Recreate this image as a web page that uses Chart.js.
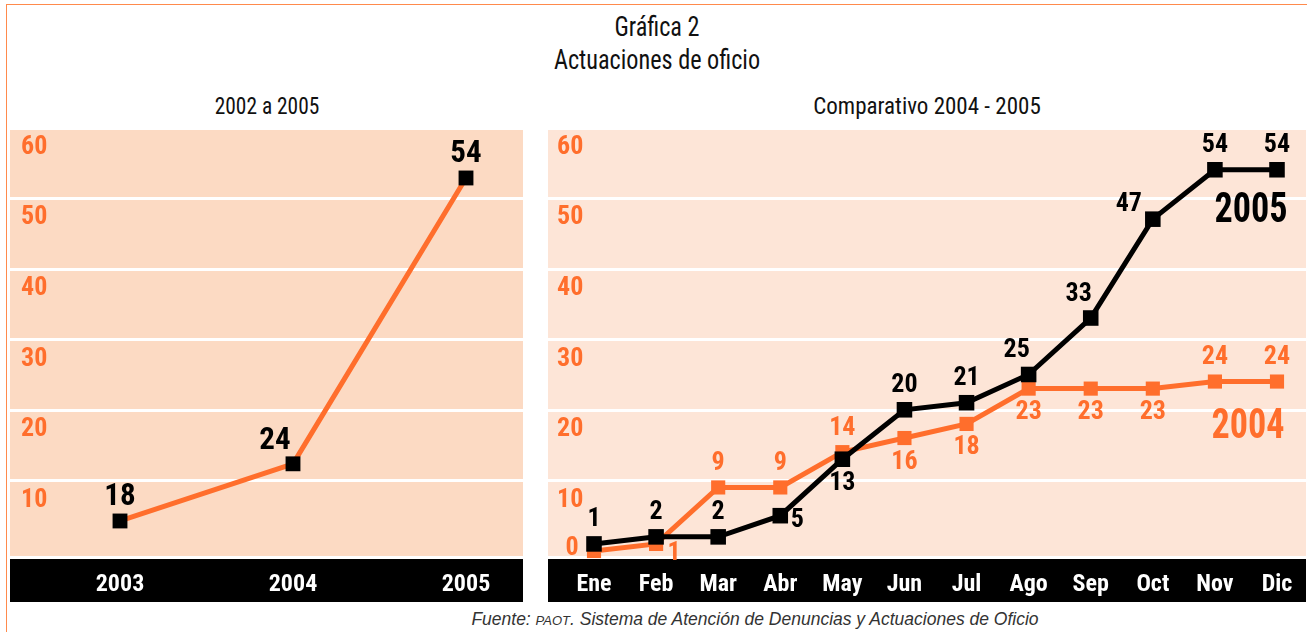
<!DOCTYPE html>
<html>
<head>
<meta charset="utf-8">
<script src="https://cdn.jsdelivr.net/npm/chart.js@4"></script>
<style>
  body { margin: 0; width: 1307px; height: 632px; overflow: hidden; position: relative; background: #fff;
         font-family: "Roboto Condensed", "DejaVu Sans Condensed", sans-serif; }
  #frame { position: absolute; left: 6px; top: 4px; width: 1302px; height: 700px; border: 1.5px solid #ff8a4c; box-sizing: border-box; }
  .txt { position: absolute; text-align: center; color: #111; white-space: nowrap; }
  #title { left: 457px; width: 400px; top: 10px; font-size: 28px; line-height: 33px; transform: scaleX(0.865); }
  #sub1 { left: 117px; width: 300px; top: 93px; font-size: 23px; transform: scaleX(0.93); }
  #sub2 { left: 777px; width: 300px; top: 93px; font-size: 23px; }
  #src { left: 355px; width: 800px; top: 609px; font-family: "Liberation Sans", sans-serif; font-style: italic; font-size: 17.5px; color: #333; }
  #src small { font-size: 13px; }
  canvas { position: absolute; }
</style>
</head>
<body>
<div id="frame"></div>
<div class="txt" id="title">Gráfica 2<br>Actuaciones de oficio</div>
<div class="txt" id="sub1">2002 a 2005</div>
<div class="txt" id="sub2">Comparativo 2004 - 2005</div>
<canvas id="left" width="513" height="484" style="left:10px;top:118px"></canvas>
<canvas id="right" width="758" height="484" style="left:548px;top:118px"></canvas>
<div class="txt" id="src">Fuente: <small>PAOT</small>. Sistema de Atención de Denuncias y Actuaciones de Oficio</div>

<script>
const years = ['2003', '2004', '2005'];
const yearTotals = [18, 24, 54];

const months = ['Ene', 'Feb', 'Mar', 'Abr', 'May', 'Jun', 'Jul', 'Ago', 'Sep', 'Oct', 'Nov', 'Dic'];
const values2005 = [1, 2, 2, 5, 13, 20, 21, 25, 33, 47, 54, 54];
const values2004 = [0, 1, 9, 9, 14, 16, 18, 23, 23, 23, 24, 24];

const yTickLabels = ['10', '20', '30', '40', '50', '60'];

// where each value label sits around its point
const posYears = ['top', 'topLeft', 'top'];
const pos2005 = ['top', 'top', 'top', 'right', 'bottom', 'top', 'top', 'topLeft', 'topLeft', 'farLeft', 'top', 'top'];
const pos2004 = ['left', 'bottomRight', 'top', 'top', 'top', 'bottom', 'bottom', 'bottom', 'bottom', 'bottom', 'top', 'top'];

const ORANGE = '#ff6e2c';
const FONT = '"Roboto Condensed", "DejaVu Sans Condensed", sans-serif';

const offsSmall = { top: [0, -24], topLeft: [-12, -24], left: [-22, -2], farLeft: [-24, -15], right: [17, 5], bottom: [0, 24], bottomRight: [18, 10] };
const offsBig = { top: [0, -24], topLeft: [-18, -23] };

// note: the printed left panel does not place its points on the scale of its own
// tick labels, so that panel gets its own value range with the same gridline rows
const leftBase = 14.85, leftStep = 7.41;
const rightBase = 0, rightStep = 10;

const panelBackground = {
  id: 'panelBackground',
  beforeDraw(chart, args, opts) {
    const { ctx, chartArea: a, width, height } = chart;
    const y = chart.scales.y;
    ctx.save();
    ctx.fillStyle = opts.color;
    ctx.fillRect(0, opts.top, width, a.bottom - opts.top);
    ctx.strokeStyle = '#fff';
    ctx.lineWidth = 3;
    y.ticks.forEach(t => {
      const py = Math.round(y.getPixelForValue(t.value)) + 0.5;
      if (py > opts.top + 2) {
        ctx.beginPath(); ctx.moveTo(0, py); ctx.lineTo(width, py); ctx.stroke();
      }
    });
    ctx.fillStyle = '#000';
    ctx.fillRect(0, a.bottom + 3, width, height - a.bottom - 3);
    ctx.restore();
  }
};

const pointLabels = {
  id: 'pointLabels',
  afterDatasetsDraw(chart) {
    const ctx = chart.ctx;
    chart.data.datasets.forEach((ds, i) => {
      const meta = chart.getDatasetMeta(i);
      ctx.save();
      ctx.textAlign = 'center';
      ctx.textBaseline = 'middle';
      ctx.fillStyle = ds.labelColor;
      ctx.font = ds.labelFont;
      meta.data.forEach((pt, j) => {
        const o = ds.labelOffsets[ds.labelPos[j]];
        ctx.fillText(String(ds.data[j]), pt.x + o[0], pt.y + o[1]);
      });
      if (ds.tag) {
        // series name written next to the end of its line, a bit narrower
        const last = meta.data[meta.data.length - 1];
        ctx.font = ds.tagFont;
        ctx.translate(last.x + ds.tagOffset[0], last.y + ds.tagOffset[1]);
        ctx.scale(0.86, 1);
        ctx.fillText(ds.tag, 0, 0);
      }
      ctx.restore();
    });
  }
};

function makePanel(id, labels, datasets, base, step, yWidth, pad, bg) {
  const tickValues = yTickLabels.map((l, i) => base + step * (i + 1));
  return new Chart(document.getElementById(id), {
    type: 'line',
    data: { labels: labels, datasets: datasets },
    options: {
      responsive: false,
      animation: false,
      devicePixelRatio: 1,
      layout: { padding: pad },
      plugins: {
        legend: { display: false },
        tooltip: { enabled: false },
        panelBackground: { color: bg, top: 12 }
      },
      scales: {
        x: {
          grid: { display: false },
          border: { display: false },
          ticks: { color: '#fff', font: { family: FONT, size: 24, weight: 'bold' }, padding: 7, maxRotation: 0 },
          afterFit(s) { s.height = 46; }
        },
        y: {
          min: base - step * 0.071,
          max: base + step * 5.963,
          afterBuildTicks(s) { s.ticks = tickValues.map(v => ({ value: v })); },
          grid: { display: false },
          border: { display: false },
          ticks: {
            callback: (v, i) => yTickLabels[i],
            color: ORANGE,
            font: { family: FONT, size: 26, weight: 'bold' },
            labelOffset: 20,
            crossAlign: 'far',
            padding: 0,
            autoSkip: false
          },
          afterFit(s) { s.width = yWidth; s.paddingTop = 0; s.paddingBottom = 0; }
        }
      }
    },
    plugins: [panelBackground, pointLabels]
  });
}

makePanel('left', years, [{
  data: yearTotals,
  borderColor: ORANGE,
  borderWidth: 5,
  pointStyle: 'rect',
  pointRadius: 10.5,
  pointBackgroundColor: '#000',
  pointBorderColor: '#000',
  pointBorderWidth: 0,
  tension: 0,
  clip: false,
  labelPos: posYears,
  labelOffsets: offsBig,
  labelColor: '#000',
  labelFont: 'bold 31px ' + FONT
}], leftBase, leftStep, 99, { left: 11, right: 57, top: 12, bottom: 0 }, '#fcdac3');

makePanel('right', months, [{
  data: values2005,
  borderColor: '#000',
  borderWidth: 5,
  pointStyle: 'rect',
  pointRadius: 11,
  pointBackgroundColor: '#000',
  pointBorderColor: '#000',
  pointBorderWidth: 0,
  tension: 0,
  clip: false,
  labelPos: pos2005,
  labelOffsets: offsSmall,
  labelColor: '#000',
  labelFont: 'bold 26px ' + FONT,
  tag: '2005',
  tagOffset: [-26, 42],
  tagFont: 'bold 42px ' + FONT
}, {
  data: values2004,
  borderColor: ORANGE,
  borderWidth: 5,
  pointStyle: 'rect',
  pointRadius: 10,
  pointBackgroundColor: ORANGE,
  pointBorderColor: ORANGE,
  pointBorderWidth: 0,
  tension: 0,
  clip: false,
  labelPos: pos2004,
  labelOffsets: offsSmall,
  labelColor: ORANGE,
  labelFont: 'bold 26px ' + FONT,
  tag: '2004',
  tagOffset: [-29, 46],
  tagFont: 'bold 42px ' + FONT
}], rightBase, rightStep, 37, { left: 9, right: 29, top: 12, bottom: 0 }, '#fde5d7');
</script>
</body>
</html>
